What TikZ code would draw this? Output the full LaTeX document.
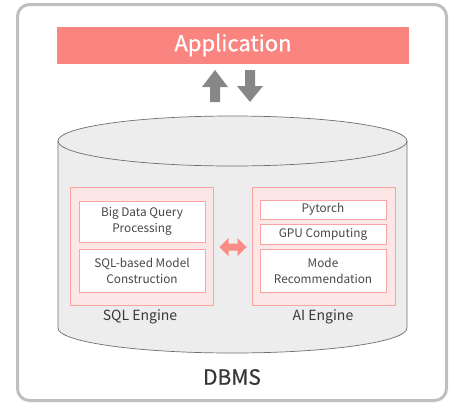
\documentclass[tikz,border=0pt]{standalone}
\usepackage{fontspec}
\setmainfont{Noto Sans CJK KR}
\newfontfamily\headfont[FakeBold=0.6]{Noto Sans CJK KR}
\usetikzlibrary{calc}
\begin{document}
\begin{tikzpicture}[x=1pt,y=-1pt,
  frame/.style={draw=black!25,line width=3pt,rounded corners=12pt},
  appbar/.style={fill=appred,text=white,inner sep=0pt,font=\headfont\fontsize{22}{24}\selectfont},
  engine/.style={draw=pinkline,fill=pinkfill,line width=1pt,inner sep=0pt},
  item/.style={draw=pinkline,fill=white,line width=1pt,inner sep=0pt,align=center,
    text=black!72,font=\fontsize{11.8}{16}\selectfont},
  lbl/.style={text=black!78,inner sep=0pt},
  blockarrow/.style={fill=black!47,draw=none},
  linkarrow/.style={fill=appred!95,draw=none}]
\definecolor{appred}{HTML}{FA8580}
\definecolor{pinkline}{HTML}{F9A3A3}
\definecolor{pinkfill}{HTML}{FDE6E6}
\definecolor{cylfill}{HTML}{EDEDED}
\definecolor{cyledge}{HTML}{6E6E6E}
\useasboundingbox (0,0) rectangle (456,405);

% outer DBMS frame
\draw[frame] (17.5,4.5) rectangle (446.5,400.5);
\node[lbl,font=\headfont\fontsize{21}{24}\selectfont] (dbms) at (232,377) {DBMS};

% application bar
\node[appbar,minimum width=352pt,minimum height=37pt] (app) at (233,45) {Application};

% up / down block arrows
\coordinate (up) at (215,70);
\fill[blockarrow] (up) -- ++(13,17) -- ++(-8,0) -- ++(0,15) -- ++(-10,0) -- ++(0,-15) -- ++(-8,0) -- cycle;
\coordinate (down) at (250,102);
\fill[blockarrow] (down) -- ++(13,-16) -- ++(-8,0) -- ++(0,-16) -- ++(-10,0) -- ++(0,16) -- ++(-8,0) -- cycle;

% database cylinder (y axis points down, so the lower rim runs 180 -> 0)
\fill[cylfill] (58,141) -- (58,328) arc[start angle=180,end angle=0,x radius=174.5,y radius=25]
  -- (407,141) arc[start angle=0,end angle=-180,x radius=174.5,y radius=25] -- cycle;
\draw[cyledge,line width=0.7pt] (58,141) -- (58,328) arc[start angle=180,end angle=0,x radius=174.5,y radius=25] -- (407,141);
\draw[cyledge,line width=0.7pt] (232.5,141) ellipse[x radius=174.5,y radius=25];

% SQL engine
\node[engine,minimum width=143pt,minimum height=118pt] (sql) at (141.5,246) {};
\node[item,minimum width=126pt,minimum height=41pt] (bigdata) at (142,221.5) {Big Data Query\\Processing};
\node[item,minimum width=126pt,minimum height=43pt] (sqlmodel) at (142,270.5) {SQL-based Model\\Construction};
\node[lbl,font=\fontsize{14}{16}\selectfont] (sqllbl) at (140,317) {SQL Engine};

% AI engine
\node[engine,minimum width=143pt,minimum height=118pt] (ai) at (323.5,246) {};
\node[item,minimum width=126pt,minimum height=19pt] (pytorch) at (323,209.5) {Pytorch};
\node[item,minimum width=126pt,minimum height=20pt] (gpu) at (323,234) {GPU Computing};
\node[item,minimum width=126pt,minimum height=43pt] (mode) at (323,270.5) {Mode\\Recommendation};
\node[lbl,font=\fontsize{14}{16}\selectfont] (ailbl) at (323,317) {AI Engine};

% two-way link between the engines
\fill[linkarrow] ($(sql.east)+(6,1)$) -- ++(9,-9) -- ++(0,5.5) -- ++(9,0) -- ++(0,-5.5) -- ++(9,9) -- ++(-9,9) -- ++(0,-5.5) -- ++(-9,0) -- ++(0,5.5) -- cycle;
\end{tikzpicture}
\end{document}
